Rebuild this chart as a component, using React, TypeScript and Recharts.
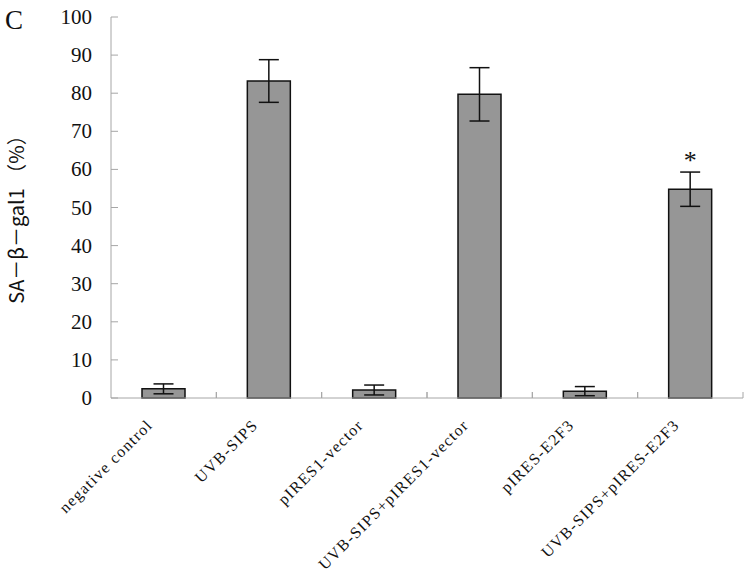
import React from "react";
import { BarChart, Bar, XAxis, YAxis, ErrorBar, LabelList } from "recharts";

const categories = [
  "negative control",
  "UVB-SIPS",
  "pIRES1-vector",
  "UVB-SIPS+pIRES1-vector",
  "pIRES-E2F3",
  "UVB-SIPS+pIRES-E2F3",
];
const values = [2.4, 83.2, 2.1, 79.7, 1.8, 54.8];
const errors = [1.3, 5.6, 1.3, 7.0, 1.2, 4.5];
const marks = ["", "", "", "", "", "*"];
const yTicks = [0, 10, 20, 30, 40, 50, 60, 70, 80, 90, 100];

const data = categories.map((name, i) => ({
  name,
  value: values[i],
  err: errors[i],
  mark: marks[i],
}));

const W = 747;
const H = 577;
const LEFT = 111;
const RIGHT = 4;
const AXIS = "#a6a6a6";
const SERIF = "'Liberation Serif', 'Times New Roman', serif";
const half = (W - LEFT - RIGHT) / categories.length / 2;

function YTick(props: any) {
  const { x, y, payload } = props;
  return (
    <g>
      <line x1={x} x2={x + 7} y1={y} y2={y} stroke={AXIS} strokeWidth={1} />
      <text
        x={x - 19}
        y={y}
        textAnchor="end"
        dominantBaseline="central"
        fontFamily={SERIF}
        fontSize={21}
        fill="#111"
      >
        {payload.value}
      </text>
    </g>
  );
}

function XTick(props: any) {
  const { x, y, payload, index } = props;
  return (
    <g>
      {index === 0 ? null : (
        <line x1={x - half} x2={x - half} y1={y} y2={y - 6} stroke={AXIS} strokeWidth={1} />
      )}
      <line x1={x + half} x2={x + half} y1={y} y2={y - 6} stroke={AXIS} strokeWidth={1} />
      <g transform={`translate(${x - 10},${y + 28})`}>
        <text
          transform="rotate(-45)"
          textAnchor="end"
          fontFamily={SERIF}
          fontSize={16}
          letterSpacing={1.3}
          fill="#111"
        >
          {payload.value}
        </text>
      </g>
    </g>
  );
}

export default function App() {
  return (
    <div style={{ position: "absolute", left: 0, top: 0, width: W, height: H, background: "#fff" }}>
      <BarChart
        width={W}
        height={H}
        data={data}
        margin={{ top: 17, right: RIGHT, bottom: 0, left: 0 }}
      >
        <XAxis
          dataKey="name"
          height={179}
          interval={0}
          axisLine={{ stroke: AXIS }}
          tickLine={false}
          tickSize={0}
          tickMargin={0}
          tick={<XTick />}
        />
        <YAxis
          width={LEFT}
          domain={[0, 100]}
          ticks={yTicks}
          axisLine={{ stroke: AXIS }}
          tickLine={false}
          tickSize={0}
          tickMargin={0}
          tick={<YTick />}
          label={{
            value: "SA－β－gal1 （%）",
            angle: -90,
            position: "insideLeft",
            dx: 12,
            dy: 7,
            style: {
              textAnchor: "middle",
              fontFamily: "'Noto Sans CJK SC', sans-serif",
              fontSize: 20,
              fontWeight: 400,
              fill: "#111",
            },
          }}
        />
        <Bar
          dataKey="value"
          barSize={43}
          fill="#969696"
          stroke="#111"
          strokeWidth={1.5}
          isAnimationActive={false}
        >
          <ErrorBar dataKey="err" width={10} stroke="#111" strokeWidth={1.5} direction="y" />
          <LabelList
            dataKey="mark"
            position="top"
            offset={20}
            fontFamily={SERIF}
            fontSize={26}
            fill="#111"
          />
        </Bar>
      </BarChart>
      <div
        style={{
          position: "absolute",
          left: 5,
          top: 5,
          fontFamily: SERIF,
          fontSize: 27,
          lineHeight: "30px",
          color: "#111",
        }}
      >
        C
      </div>
    </div>
  );
}
